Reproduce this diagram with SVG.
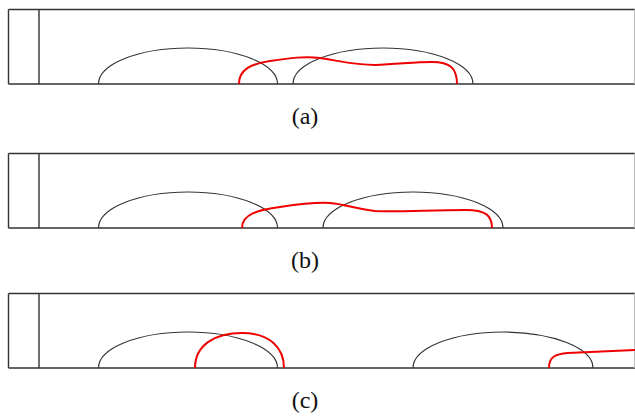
<svg xmlns="http://www.w3.org/2000/svg" width="635" height="418" viewBox="0 0 635 418">
<style>
.frame{fill:none;stroke:#333;stroke-width:1.4}
.edge{fill:none;stroke:#bbb;stroke-width:1}
.drop{fill:none;stroke:#333;stroke-width:1.2}
.red{fill:none;stroke:#e00;stroke-width:2}
.lbl{font-family:"Liberation Serif","Times New Roman",serif;font-size:24px;fill:#111;text-anchor:middle}
</style>
<rect width="635" height="418" fill="#fff"/>
<g id="panel-a">
<path class="frame" d="M8.5,9.5 H635 M8.5,84 H635 M8.5,9.5 V84 M39,9.5 V84"/>
<path class="edge" d="M634.5,9.5 V84"/>
<path class="drop" d="M98.5,84 A89.5,36 0 0 1 277.5,84"/>
<path class="drop" d="M293,84 A90,36 0 0 1 473,84"/>
<path class="red" d="M239,84 C239,70 250,64 270,61 C290,58 305,56 320,58 C340,61 355,65 375,65 C400,64 415,62 432,62 C450,62 457,68 457,84"/>
<text class="lbl" x="305" y="124">(a)</text>
</g>
<g id="panel-b">
<path class="frame" d="M8.5,153.5 H635 M8.5,228 H635 M8.5,153.5 V228 M39,153.5 V228"/>
<path class="edge" d="M634.5,153.5 V228"/>
<path class="drop" d="M98.5,228 A89.5,36 0 0 1 277.5,228"/>
<path class="drop" d="M323,228 A90,36 0 0 1 503,228"/>
<path class="red" d="M242,228 C242,214 258,210 280,207 C300,204 315,202 330,203 C345,204 355,209 375,211 C400,212 430,210 466,210 C485,210 492,215 492,228"/>
<text class="lbl" x="305" y="268">(b)</text>
</g>
<g id="panel-c">
<path class="frame" d="M8.5,293.5 H635 M8.5,368 H635 M8.5,293.5 V368 M39,293.5 V368"/>
<path class="edge" d="M634.5,293.5 V368"/>
<path class="drop" d="M98.5,368 A89.5,36 0 0 1 277.5,368"/>
<path class="drop" d="M413,368 A90,36 0 0 1 593,368"/>
<path class="red" d="M195,368 C195,345 215,333 242,333 C270,333 284,348 284,368"/>
<path class="red" d="M549,368 C549,357 555,354 568,353 C595,352 615,351 635,350"/>
<text class="lbl" x="305" y="408">(c)</text>
</g>
</svg>
